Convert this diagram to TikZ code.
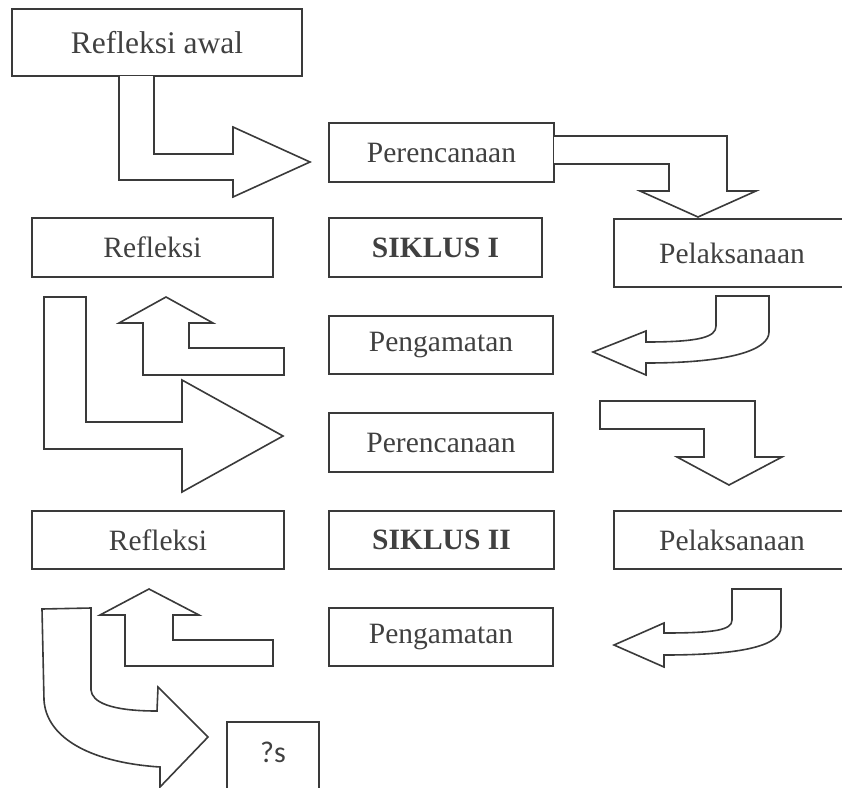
\documentclass[tikz,border=0pt]{standalone}
\usepackage{fontspec}
\setmainfont{Liberation Serif}
\newfontfamily\qfont{Carlito}
\definecolor{ln}{HTML}{3A3A3A}
\definecolor{tx}{HTML}{404040}
\begin{document}
\begin{tikzpicture}[x=1pt,y=-1pt,
  box/.style={draw=ln, line width=1.6pt, inner sep=0pt, text=tx,
    font=\fontsize{29.5}{34}\selectfont},
  blk/.style={draw=ln, line width=1.6pt, fill=white, line join=miter}]
\useasboundingbox (0,0) rectangle (842,787);
\clip (0,0) rectangle (842,787);
% boxes
\node[box, minimum width=290pt, minimum height=67pt, font=\fontsize{31.5}{36}\selectfont] (ra) at (157,42.5) {Refleksi awal};
\node[box, minimum width=225pt, minimum height=59pt] (p1) at (441.5,152.5) {Perencanaan};
\node[box, minimum width=241pt, minimum height=59pt] (r1) at (152.5,247.5) {Refleksi};
\node[box, minimum width=213pt, minimum height=59pt, font=\fontsize{29.5}{34}\selectfont\bfseries] (s1) at (435.5,247.5) {SIKLUS I};
\node[box, minimum width=236pt, minimum height=68pt] (l1) at (732,253) {Pelaksanaan};
\node[box, minimum width=224pt, minimum height=58pt] (g1) at (441,345) {Pengamatan};
\node[box, minimum width=224pt, minimum height=59pt] (p2) at (441,442.5) {Perencanaan};
\node[box, minimum width=252pt, minimum height=58pt] (r2) at (158,540) {Refleksi};
\node[box, minimum width=225pt, minimum height=58pt, font=\fontsize{29.5}{34}\selectfont\bfseries] (s2) at (441.5,540) {SIKLUS II};
\node[box, minimum width=236pt, minimum height=58pt] (l2) at (732,540) {Pelaksanaan};
\node[box, minimum width=224pt, minimum height=58pt] (g2) at (441,637) {Pengamatan};
\node[draw=ln, line width=1.6pt, minimum width=92pt, minimum height=90pt, inner sep=0pt] (q) at (273,767) {};
\node[text=tx, font=\qfont\fontsize{30}{34}\selectfont] (qt) at (273,752) {?s};
% block arrows
\draw[blk] (119,76) -- (119,180) -- (233,180) -- (233,197) -- (310,162) -- (233,127) -- (233,154) -- (154,154) -- (154,76);
\draw[blk] (554,136) -- (727,136) -- (727,191) -- (756,191) -- (698,217) -- (640,191) -- (669,191) -- (669,164) -- (554,164);
\draw[blk] (284,348) -- (189,348) -- (189,323) -- (213,323) -- (166,297) -- (119,323) -- (143,323) -- (143,375) -- (284,375) -- cycle;
\draw[blk] (44,297) -- (86,297) -- (86,422) -- (182,422) -- (182,380) -- (283,436) -- (182,492) -- (182,449) -- (44,449) -- cycle;
\draw[blk] (716,296) -- (716,326) .. controls (716,337) and (700,342) .. (646,342) -- (646,331) -- (593,352) -- (646,375) -- (646,363) .. controls (730,363) and (769,350) .. (769,332) -- (769,296) -- cycle;
\draw[blk] (600,401) -- (755,401) -- (755,457) -- (782,457) -- (729,485) -- (677,457) -- (704,457) -- (704,429) -- (600,429) -- cycle;
\draw[blk] (273,640) -- (173,640) -- (173,615) -- (199,615) -- (149,589) -- (100,615) -- (125,615) -- (125,666) -- (273,666) -- cycle;
\draw[blk] (42,609) -- (91,608) -- (91,690) .. controls (92,702) and (110,711) .. (157,711) -- (158,687) -- (208,737) -- (160,787) -- (160,767) .. controls (85,762) and (46,735) .. (44,700) -- cycle;
\draw[blk] (732,589) -- (732,620) .. controls (732,630) and (715,633) .. (664,633) -- (664,623) -- (614,645) -- (664,667) -- (664,655) .. controls (745,655) and (781,645) .. (781,627) -- (781,589) -- cycle;
\end{tikzpicture}
\end{document}
